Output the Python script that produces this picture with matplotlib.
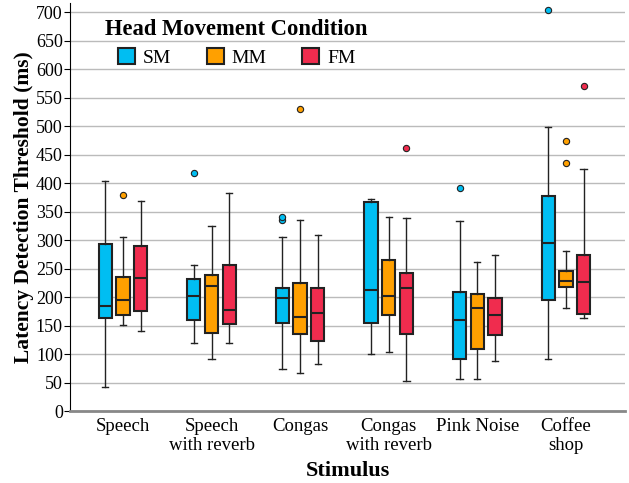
import matplotlib
matplotlib.use('Agg')
import matplotlib.pyplot as plt
from matplotlib.patches import Patch

plt.rcParams['font.family'] = ['Liberation Serif', 'DejaVu Serif']

stimuli = ['Speech', 'Speech\nwith reverb', 'Congas', 'Congas\nwith reverb', 'Pink Noise', 'Coffee\nshop']
conditions = ['SM', 'MM', 'FM']
colors = ['#00BEF2', '#FFA000', '#F02C4E']

# (whislo, q1, med, q3, whishi) per stimulus, per condition
sm_stats = [(42, 164, 184, 293, 403), (120, 160, 202, 231, 256), (74, 154, 199, 216, 305),
            (100, 155, 213, 366, 372), (56, 91, 159, 209, 334), (91, 194, 294, 378, 499)]
mm_stats = [(151, 169, 195, 236, 306), (91, 137, 219, 239, 324), (66, 136, 165, 224, 336),
            (104, 169, 202, 265, 341), (56, 109, 181, 206, 261), (181, 217, 228, 246, 281)]
fm_stats = [(141, 175, 233, 289, 368), (119, 152, 177, 257, 383), (82, 122, 172, 215, 308),
            (52, 135, 216, 242, 339), (88, 134, 168, 199, 274), (163, 170, 227, 274, 425)]
sm_out = [[], [418], [335, 341], [], [391], [703]]
mm_out = [[379], [], [530], [], [], [435, 473]]
fm_out = [[], [], [], [462], [], [571]]

all_stats = [sm_stats, mm_stats, fm_stats]
all_out = [sm_out, mm_out, fm_out]
offsets = [-0.2, 0.0, 0.2]

fig = plt.figure(figsize=(6.29, 4.83), dpi=100)
ax = fig.add_axes([0.111, 0.149, 0.883, 0.845])

for c in range(3):
    stats = []
    for i, s in enumerate(all_stats[c]):
        stats.append(dict(whislo=s[0], q1=s[1], med=s[2], q3=s[3], whishi=s[4],
                          fliers=all_out[c][i]))
    pos = [i + offsets[c] for i in range(len(stimuli))]
    bp = ax.bxp(stats, positions=pos, widths=0.15, patch_artist=True,
                showfliers=True, capwidths=0.07,
                boxprops=dict(facecolor=colors[c], edgecolor='#222222', linewidth=1.5),
                medianprops=dict(color='#222222', linewidth=1.5),
                whiskerprops=dict(color='#222222', linewidth=1),
                capprops=dict(color='#222222', linewidth=1),
                flierprops=dict(marker='o', markerfacecolor=colors[c], markeredgecolor='#222222',
                                markersize=4.5, markeredgewidth=0.8))

ax.set_xlim(-0.6, 5.67)
ax.set_ylim(0, 716)
ax.set_yticks(range(0, 701, 50))
ax.yaxis.grid(True, color='#BBBBBB', linewidth=1)
ax.set_axisbelow(True)
ax.set_xticks(range(len(stimuli)))
ax.set_xticklabels(stimuli, fontsize=13.5, linespacing=1.15)
ax.tick_params(axis='y', labelsize=13, length=4, pad=1)
ax.tick_params(axis='x', length=0, pad=5)
ax.spines['top'].set_visible(False)
ax.spines['right'].set_visible(False)
ax.spines['bottom'].set_color('#888888')
ax.spines['bottom'].set_linewidth(2)
ax.set_ylabel('Latency Detection Threshold (ms)', fontsize=15.5, fontweight='bold', labelpad=1)
ax.set_xlabel('Stimulus', fontsize=16, fontweight='bold', labelpad=5)

ax.text(0.063, 0.934, 'Head Movement Condition', transform=ax.transAxes,
        fontsize=16.3, fontweight='bold', ha='left', va='center')
handles = [Patch(facecolor=colors[i], edgecolor='#222222', linewidth=1.5, label=conditions[i])
           for i in range(3)]
ax.legend(handles=handles, ncol=3, loc='center left', bbox_to_anchor=(0.0865, 0.866),
          frameon=False, fontsize=14, columnspacing=1.8, handlelength=0.9,
          handleheight=0.9, handletextpad=0.4, borderpad=0, borderaxespad=0)

fig.savefig('out.png', dpi=100)
